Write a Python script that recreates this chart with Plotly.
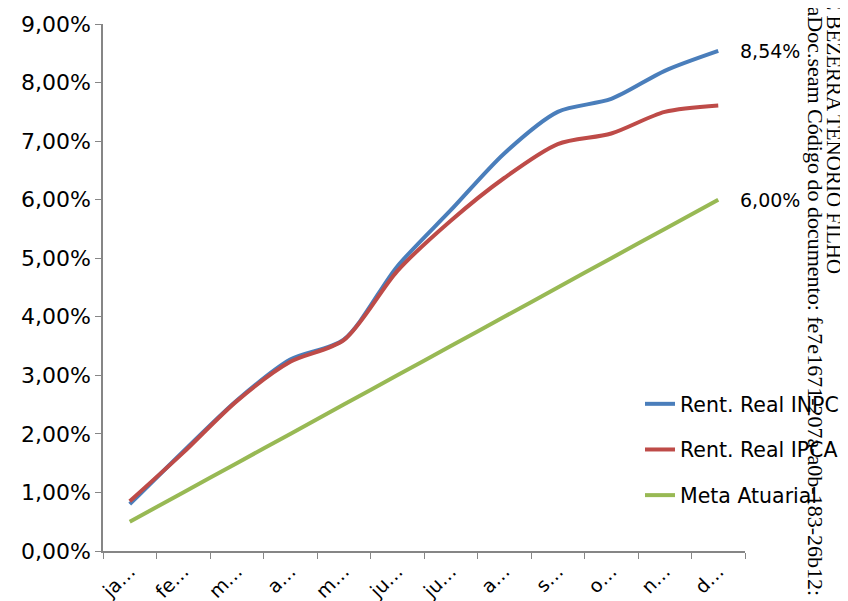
import plotly.graph_objects as go

meses = ["jan", "fev", "mar", "abr", "mai", "jun", "jul", "ago", "set", "out", "nov", "dez"]
rotulos = ["ja…", "fe…", "m…", "a…", "m…", "ju…", "ju…", "a…", "s…", "o…", "n…", "d…"]
inpc = [0.80, 1.70, 2.57, 3.27, 3.61, 4.86, 5.82, 6.79, 7.50, 7.72, 8.20, 8.54]
ipca = [0.85, 1.68, 2.56, 3.23, 3.60, 4.78, 5.64, 6.37, 6.95, 7.13, 7.50, 7.61]
meta = [0.50, 1.00, 1.50, 2.00, 2.50, 3.00, 3.50, 4.00, 4.50, 5.00, 5.50, 6.00]
y_ticks = [0, 1, 2, 3, 4, 5, 6, 7, 8, 9]

FONT = "DejaVu Sans"
series = [
    ("Rent. Real INPC", inpc, "#4A7EBB"),
    ("Rent. Real IPCA", ipca, "#BE4B48"),
    ("Meta Atuarial", meta, "#98B954"),
]

fig = go.Figure()
for i, (name, vals, color) in enumerate(series):
    fig.add_trace(go.Scatter(
        x=meses, y=vals, name=name, mode="lines",
        line=dict(color=color, width=4, shape="spline", smoothing=0.8),
        legendgroup=f"g{i}",
    ))

def fmt(v):
    return f"{v:.2f}%".replace(".", ",")

for vals in (inpc, meta):
    fig.add_annotation(x=meses[-1], y=vals[-1], text=fmt(vals[-1]), showarrow=False,
                       xanchor="left", yanchor="middle", xshift=20,
                       font=dict(family=FONT, size=19, color="#000000"))

# watermark (vertical text on the right edge)
fig.add_annotation(xref="paper", yref="paper", x=(834 - 103) / 642, y=(551 + 5) / 527,
                   text="E BEZERRA TENORIO FILHO", textangle=90, showarrow=False,
                   xanchor="center", yanchor="top",
                   font=dict(family="Liberation Serif", size=21, color="#000000"))
fig.add_annotation(xref="paper", yref="paper", x=(815 - 103) / 642, y=(551 + 6) / 527,
                   text="daDoc.seam Código do documento: fe7e1671-207a-a0b-183-26b12:",
                   textangle=90, showarrow=False, xanchor="center", yanchor="top",
                   font=dict(family="Liberation Serif", size=22, color="#000000"))

fig.update_layout(
    width=840, height=593,
    margin=dict(l=95, r=103, t=16, b=50, autoexpand=False),
    paper_bgcolor="white", plot_bgcolor="white",
    separators=",.",
    font=dict(family=FONT, size=20, color="#000000"),
    showlegend=True,
    legend=dict(x=(640 - 103) / 642, y=(551 - 384) / 527, xanchor="left", yanchor="top",
                bgcolor="rgba(0,0,0,0)", font=dict(family=FONT, size=20.5),
                tracegroupgap=16, traceorder="grouped"),
)
fig.update_xaxes(
    type="category", range=[-0.5, 11.5], tickvals=meses, ticktext=rotulos,
    tickangle=-45, tickson="boundaries", ticks="outside", ticklen=6,
    tickcolor="#868686", showline=True, linecolor="#868686", linewidth=1.5,
    showgrid=False, zeroline=False, tickfont=dict(family=FONT, size=19),
    automargin=False,
)
fig.update_yaxes(
    range=[0, 9], tickvals=y_ticks, ticktext=[fmt(v) for v in y_ticks],
    ticks="outside", ticklen=6, tickcolor="#868686",
    showline=True, linecolor="#868686", linewidth=1.5,
    showgrid=False, zeroline=False, tickfont=dict(family=FONT, size=22),
    automargin=False,
)
fig.write_html("out.html")
